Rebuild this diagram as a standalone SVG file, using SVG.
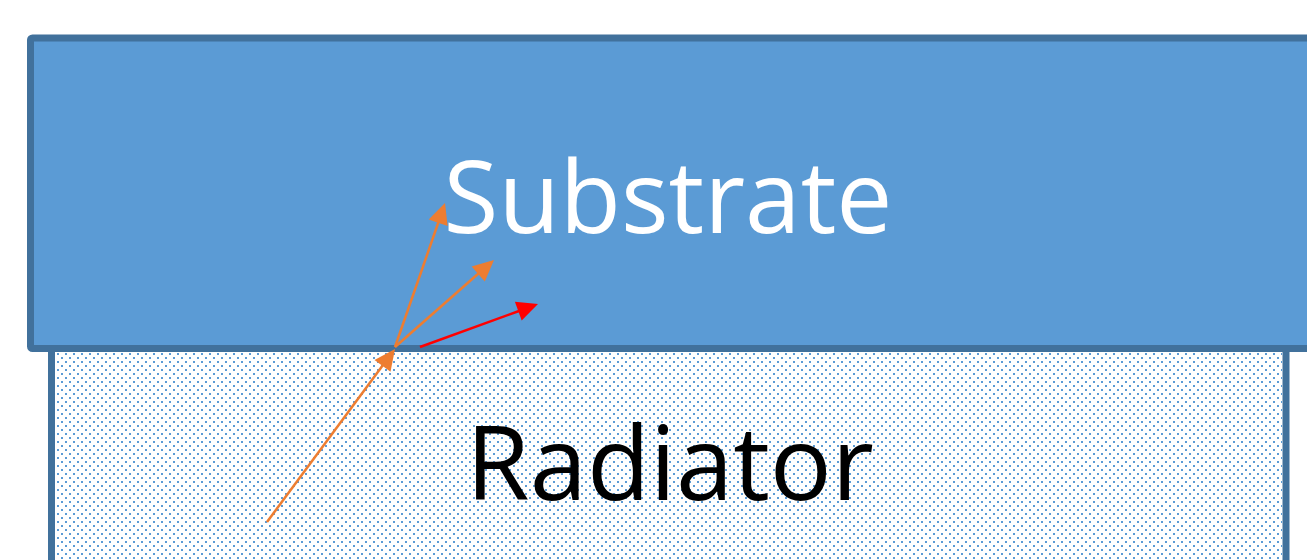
<svg xmlns="http://www.w3.org/2000/svg" width="1307" height="560" viewBox="0 0 1307 560">
<defs>
<pattern id="dots" width="8" height="8" patternUnits="userSpaceOnUse">
<rect x="1" y="1" width="2" height="2" fill="#5B9BD5"/>
<rect x="5" y="5" width="2" height="2" fill="#5B9BD5"/>
</pattern>
<style>
.layer{stroke:#41719C;stroke-width:7}
.lbl{font-family:"Open Sans","Liberation Sans",sans-serif}
.ray{fill:none;stroke-width:2.5}
.o{stroke:#ED7D31}
.r{stroke:#FF0000}
.ho{fill:#ED7D31}
.hr{fill:#FF0000}
</style>
</defs>
<rect width="1307" height="560" fill="#FFFFFF"/>
<g id="radiator">
<rect class="layer" x="51.5" y="345" width="1234.5" height="230" fill="#FFFFFF"/>
<rect x="55" y="352" width="1227" height="210" fill="url(#dots)"/>
<text class="lbl" x="670" y="500" font-size="103" text-anchor="middle" fill="#000000">Radiator</text>
</g>
<g id="substrate">
<rect class="layer" x="30.5" y="38" width="1290" height="310.5" fill="#5B9BD5" rx="2"/>
<text class="lbl" x="668" y="233" font-size="100" text-anchor="middle" fill="#FFFFFF">Substrate</text>
</g>
<g id="connectors">
<line class="ray o" x1="267" y1="522" x2="383" y2="365"/>
<polygon class="ho" points="395,349 390.5,371.8 374.5,359.95"/>
<line class="ray o" x1="395" y1="347" x2="438.5" y2="222"/>
<polygon class="ho" points="445,203 447.6,226.1 428.7,219.6"/>
<line class="ray o" x1="395" y1="347" x2="479" y2="273"/>
<polygon class="ho" points="494,260 484.8,281.4 471.6,266.4"/>
<line class="ray r" x1="420" y1="347" x2="519" y2="311"/>
<polygon class="hr" points="538,304 521.7,320.6 514.9,301.8"/>
</g>
</svg>
